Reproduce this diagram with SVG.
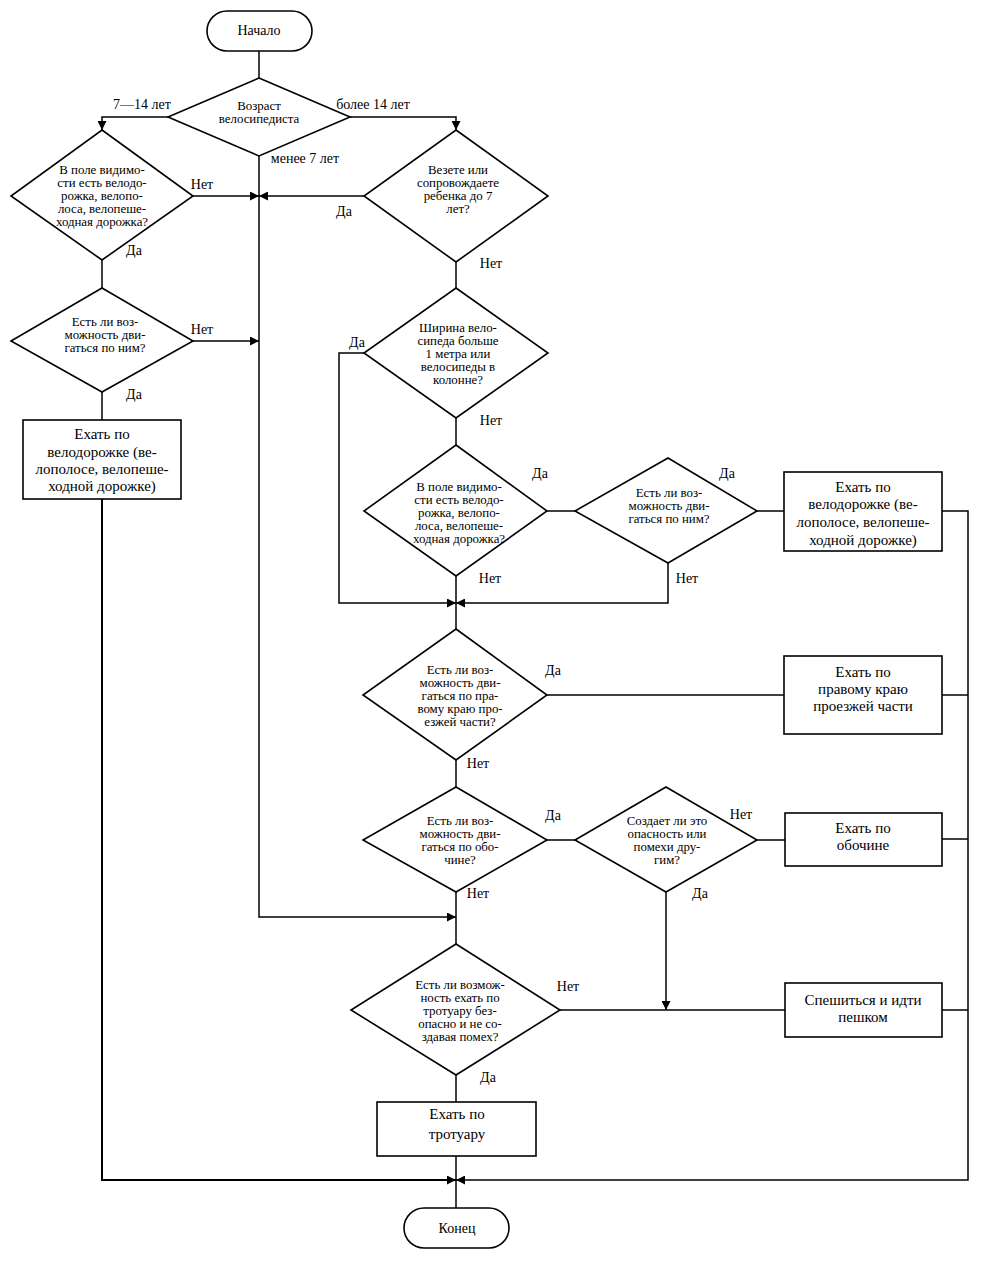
<svg xmlns="http://www.w3.org/2000/svg" width="1000" height="1267" viewBox="0 0 1000 1267">
<style>
.shape{fill:#fff;stroke:#000;stroke-width:1.6}
.ln{fill:none;stroke:#000;stroke-width:1.5}
text{font-family:"Liberation Serif","Times New Roman",serif;fill:#000;text-anchor:middle}
.q{font-size:11.5px}
.b{font-size:15px}
.t{font-size:14px}
.l{font-size:14px}
</style>
<defs>
<marker id="ah" viewBox="0 0 10 10" refX="10" refY="5" markerWidth="9" markerHeight="9" markerUnits="userSpaceOnUse" orient="auto"><path d="M0,0 L10,5 L0,10 z" fill="#000"/></marker>
</defs>
<rect width="1000" height="1267" fill="#fff"/>
<g id="connectors">
<path class="ln" d="M259,51 V78"/>
<path class="ln" d="M168,117 H102 V130" marker-end="url(#ah)"/>
<path class="ln" d="M350,117 H456 V130" marker-end="url(#ah)"/>
<path class="ln" d="M259,156 V917 H456" marker-end="url(#ah)"/>
<path class="ln" d="M193,196 H259" marker-end="url(#ah)"/>
<path class="ln" d="M364,196 H259" marker-end="url(#ah)"/>
<path class="ln" d="M102,260 V288"/>
<path class="ln" d="M193,341 H259" marker-end="url(#ah)"/>
<path class="ln" d="M102,392 V420"/>
<path class="ln" d="M102,499 V1180 H456" style="stroke-width:2" marker-end="url(#ah)"/>
<path class="ln" d="M456,262 V288"/>
<path class="ln" d="M364,353 H339 V603 H456" marker-end="url(#ah)"/>
<path class="ln" d="M456,418 V445"/>
<path class="ln" d="M547,511 H575"/>
<path class="ln" d="M757,511 H784"/>
<path class="ln" d="M668,563 V603 H456" marker-end="url(#ah)"/>
<path class="ln" d="M456,576 V629"/>
<path class="ln" d="M547,695 H784"/>
<path class="ln" d="M456,760 V787"/>
<path class="ln" d="M547,840 H575"/>
<path class="ln" d="M757,840 H785"/>
<path class="ln" d="M666,892 V1010" marker-end="url(#ah)"/>
<path class="ln" d="M456,892 V944"/>
<path class="ln" d="M560,1010 H785"/>
<path class="ln" d="M456,1075 V1102"/>
<path class="ln" d="M456,1156 V1208"/>
<path class="ln" d="M942,511 H968 V1180 H456" marker-end="url(#ah)"/>
<path class="ln" d="M942,695 H968"/>
<path class="ln" d="M942,839 H968"/>
<path class="ln" d="M942,1010 H968"/>
<text class="l" x="142" y="109">7—14 лет</text>
<text class="l" x="373" y="109">более 14 лет</text>
<text class="l" x="305" y="163">менее 7 лет</text>
<text class="l" x="202" y="189">Нет</text>
<text class="l" x="134" y="255">Да</text>
<text class="l" x="344" y="216">Да</text>
<text class="l" x="491" y="268">Нет</text>
<text class="l" x="202" y="334">Нет</text>
<text class="l" x="134" y="399">Да</text>
<text class="l" x="357" y="347">Да</text>
<text class="l" x="491" y="425">Нет</text>
<text class="l" x="540" y="478">Да</text>
<text class="l" x="727" y="478">Да</text>
<text class="l" x="490" y="583">Нет</text>
<text class="l" x="687" y="583">Нет</text>
<text class="l" x="553" y="675">Да</text>
<text class="l" x="478" y="768">Нет</text>
<text class="l" x="553" y="820">Да</text>
<text class="l" x="478" y="898">Нет</text>
<text class="l" x="741" y="819">Нет</text>
<text class="l" x="700" y="898">Да</text>
<text class="l" x="568" y="991">Нет</text>
<text class="l" x="488" y="1082">Да</text>
</g>
<g id="start">
<rect class="shape" x="207" y="11" width="105" height="40" rx="20"/>
<text class="t" x="259" y="35">Начало</text>
</g>
<g id="age">
<polygon class="shape" points="259,78 350,117 259,156 168,117"/>
<text class="q" transform="translate(259 0) scale(1.12 1)"><tspan x="0" y="110">Возраст</tspan><tspan x="0" y="123">велосипедиста</tspan></text>
</g>
<g id="q-left-lane">
<polygon class="shape" points="102,130 193,196 102,260 11,196"/>
<text class="q" transform="translate(102 0) scale(1.12 1)"><tspan x="0" y="174">В поле видимо-</tspan><tspan x="0" y="187">сти есть велодо-</tspan><tspan x="0" y="200">рожка, велопо-</tspan><tspan x="0" y="213">лоса, велопеше-</tspan><tspan x="0" y="226">ходная дорожка?</tspan></text>
</g>
<g id="q-child">
<polygon class="shape" points="456,130 548,196 456,262 364,196"/>
<text class="q" transform="translate(458 0) scale(1.12 1)"><tspan x="0" y="174">Везете или</tspan><tspan x="0" y="187">сопровождаете</tspan><tspan x="0" y="200">ребенка до 7</tspan><tspan x="0" y="213">лет?</tspan></text>
</g>
<g id="q-left-can">
<polygon class="shape" points="102,288 193,341 102,392 11,341"/>
<text class="q" transform="translate(105 0) scale(1.12 1)"><tspan x="0" y="326">Есть ли воз-</tspan><tspan x="0" y="339">можность дви-</tspan><tspan x="0" y="352">гаться по ним?</tspan></text>
</g>
<g id="left-bikeway">
<rect class="shape" x="23" y="420" width="158" height="79"/>
<text class="b"><tspan x="102" y="439">Ехать по</tspan><tspan x="102" y="457">велодорожке (ве-</tspan><tspan x="102" y="474">лополосе, велопеше-</tspan><tspan x="102" y="491">ходной дорожке)</tspan></text>
</g>
<g id="q-width">
<polygon class="shape" points="456,288 548,353 456,418 364,353"/>
<text class="q" transform="translate(458 0) scale(1.12 1)"><tspan x="0" y="332">Ширина вело-</tspan><tspan x="0" y="345">сипеда больше</tspan><tspan x="0" y="358">1 метра или</tspan><tspan x="0" y="371">велосипеды в</tspan><tspan x="0" y="384">колонне?</tspan></text>
</g>
<g id="q-right-lane">
<polygon class="shape" points="456,445 547,511 456,576 364,511"/>
<text class="q" transform="translate(459 0) scale(1.12 1)"><tspan x="0" y="491">В поле видимо-</tspan><tspan x="0" y="504">сти есть велодо-</tspan><tspan x="0" y="517">рожка, велопо-</tspan><tspan x="0" y="530">лоса, велопеше-</tspan><tspan x="0" y="543">ходная дорожка?</tspan></text>
</g>
<g id="q-right-can">
<polygon class="shape" points="668,458 757,511 668,563 575,511"/>
<text class="q" transform="translate(669 0) scale(1.12 1)"><tspan x="0" y="497">Есть ли воз-</tspan><tspan x="0" y="510">можность дви-</tspan><tspan x="0" y="523">гаться по ним?</tspan></text>
</g>
<g id="right-bikeway">
<rect class="shape" x="784" y="472" width="158" height="79"/>
<text class="b"><tspan x="863" y="492">Ехать по</tspan><tspan x="863" y="509">велодорожке (ве-</tspan><tspan x="863" y="527">лополосе, велопеше-</tspan><tspan x="863" y="545">ходной дорожке)</tspan></text>
</g>
<g id="q-edge">
<polygon class="shape" points="456,629 547,695 456,760 363,695"/>
<text class="q" transform="translate(460 0) scale(1.12 1)"><tspan x="0" y="674">Есть ли воз-</tspan><tspan x="0" y="687">можность дви-</tspan><tspan x="0" y="700">гаться по пра-</tspan><tspan x="0" y="713">вому краю про-</tspan><tspan x="0" y="726">езжей части?</tspan></text>
</g>
<g id="edge">
<rect class="shape" x="784" y="656" width="158" height="78"/>
<text class="b"><tspan x="863" y="677">Ехать по</tspan><tspan x="863" y="694">правому краю</tspan><tspan x="863" y="711">проезжей части</tspan></text>
</g>
<g id="q-shoulder">
<polygon class="shape" points="456,787 547,840 456,892 363,840"/>
<text class="q" transform="translate(460 0) scale(1.12 1)"><tspan x="0" y="825">Есть ли воз-</tspan><tspan x="0" y="838">можность дви-</tspan><tspan x="0" y="851">гаться по обо-</tspan><tspan x="0" y="864">чине?</tspan></text>
</g>
<g id="q-danger">
<polygon class="shape" points="666,787 757,840 666,892 575,840"/>
<text class="q" transform="translate(667 0) scale(1.12 1)"><tspan x="0" y="825">Создает ли это</tspan><tspan x="0" y="838">опасность или</tspan><tspan x="0" y="851">помехи дру-</tspan><tspan x="0" y="864">гим?</tspan></text>
</g>
<g id="shoulder">
<rect class="shape" x="785" y="813" width="157" height="53"/>
<text class="b"><tspan x="863" y="833">Ехать по</tspan><tspan x="863" y="850">обочине</tspan></text>
</g>
<g id="q-sidewalk">
<polygon class="shape" points="456,944 560,1010 456,1075 351,1010"/>
<text class="q" transform="translate(460 0) scale(1.12 1)"><tspan x="0" y="989">Есть ли возмож-</tspan><tspan x="0" y="1002">ность ехать по</tspan><tspan x="0" y="1015">тротуару без-</tspan><tspan x="0" y="1028">опасно и не со-</tspan><tspan x="0" y="1041">здавая помех?</tspan></text>
</g>
<g id="walk">
<rect class="shape" x="785" y="983" width="157" height="54"/>
<text class="b"><tspan x="863" y="1005">Спешиться и идти</tspan><tspan x="863" y="1022">пешком</tspan></text>
</g>
<g id="sidewalk">
<rect class="shape" x="377" y="1102" width="159" height="54"/>
<text class="b"><tspan x="457" y="1119">Ехать по</tspan><tspan x="457" y="1139">тротуару</tspan></text>
</g>
<g id="end">
<rect class="shape" x="404" y="1208" width="105" height="40" rx="20"/>
<text class="t" x="457" y="1233">Конец</text>
</g>
</svg>
